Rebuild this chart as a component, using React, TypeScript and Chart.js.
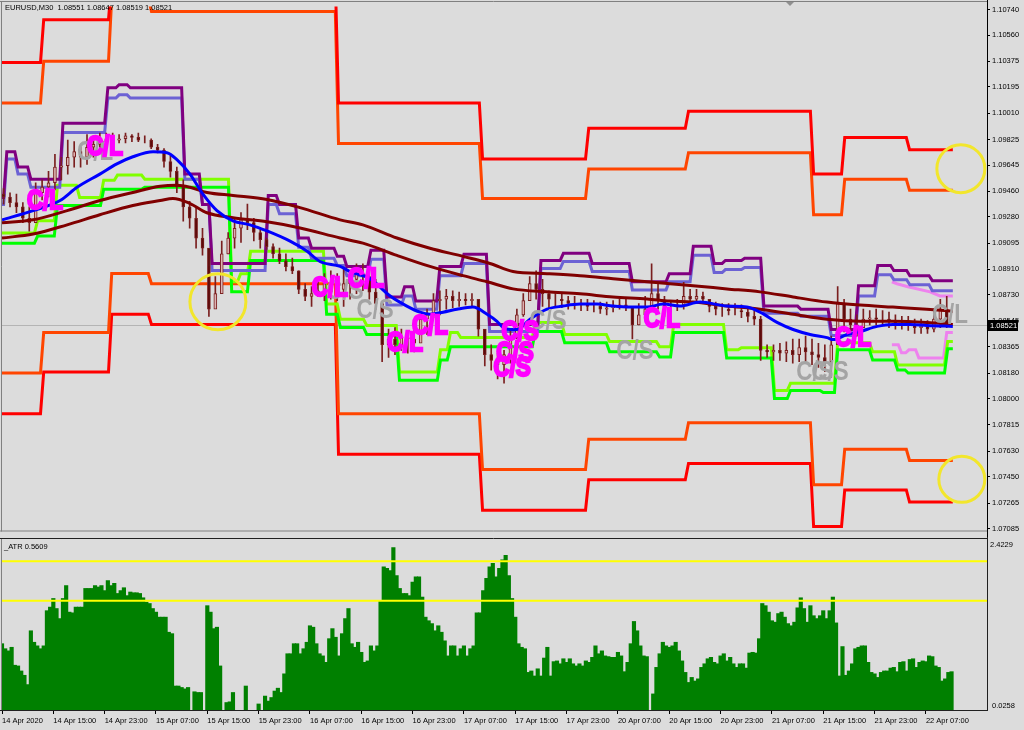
import React, { useEffect, useRef } from "react";
import { Chart, registerables } from "chart.js";

Chart.register(...registerables);

const BG = "#dcdcdc";
const X_MIN = -0.312;
const X_MAX = 307.05;
const LAST_BAR = 296.4;
const LAST_PRICE = 1.08521;
const HEADER = "EURUSD,M30  1.08551 1.08647 1.08519 1.08521";
const ATR_TITLE = "_ATR 0.5609";
const PRICE_MAX = 1.10761;
const PRICE_MIN = 1.07072;
const ATR_MAX = 2.4229;
const ATR_MIN = 0.0258;
const ATR_TOP_LABEL = "2.4229";
const ATR_BOTTOM_LABEL = "0.0258";
const FONT_FAMILY = "'Liberation Sans', Arial, sans-serif";

const priceTicks = [1.1074, 1.1056, 1.10375, 1.10195, 1.1001, 1.09825, 1.09645, 1.0946, 1.0928, 1.09095, 1.0891, 1.0873, 1.08545, 1.08365, 1.0818, 1.08, 1.07815, 1.0763, 1.0745, 1.07265, 1.07085];

const timeTickIdx = [0, 16, 32, 48, 64, 80, 96, 112, 128, 144, 160, 176, 192, 208, 224, 240, 256, 272, 288];
const timeTickLabels = ["14 Apr 2020", "14 Apr 15:00", "14 Apr 23:00", "15 Apr 07:00", "15 Apr 15:00", "15 Apr 23:00", "16 Apr 07:00", "16 Apr 15:00", "16 Apr 23:00", "17 Apr 07:00", "17 Apr 15:00", "17 Apr 23:00", "20 Apr 07:00", "20 Apr 15:00", "20 Apr 23:00", "21 Apr 07:00", "21 Apr 15:00", "21 Apr 23:00", "22 Apr 07:00"];

// candles (each drawn candle covers 2 bars of M30)
const CANDLE_STEP = 2;
const candleFirstOpen = 1.0944;
const candleHigh = [
  1.0948, 1.0945, 1.0944, 1.0938, 1.0935, 1.0952, 1.0954, 1.096, 1.0972, 1.097,
  1.0982, 1.0981, 1.0977, 1.0986, 1.0985, 1.0987, 1.0987, 1.0987, 1.0986, 1.0987,
  1.0986, 1.0987, 1.0985, 1.0983, 1.0979, 1.0976, 1.0971, 1.0963, 1.0954, 1.0939,
  1.0935, 1.092, 1.0893, 1.0886, 1.0911, 1.0917, 1.0927, 1.0931, 1.0937, 1.0927,
  1.0919, 1.0913, 1.0909, 1.0906, 1.0902, 1.0899, 1.089, 1.0881, 1.0879, 1.0883,
  1.0888, 1.089, 1.0888, 1.0892, 1.089, 1.0895, 1.0895, 1.0892, 1.0884, 1.0867,
  1.0849, 1.085, 1.0849, 1.0847, 1.0849, 1.0859, 1.0863, 1.0874, 1.0876, 1.0877,
  1.0876, 1.0875, 1.0874, 1.0874, 1.087, 1.0842, 1.0838, 1.0832, 1.0834, 1.0849,
  1.0863, 1.0874, 1.0886, 1.089, 1.0884, 1.0876, 1.0874, 1.0874, 1.0872, 1.0872,
  1.087, 1.087, 1.0869, 1.0868, 1.0868, 1.0869, 1.087, 1.087, 1.0863, 1.0867,
  1.0872, 1.0895, 1.0881, 1.0872, 1.0869, 1.087, 1.0882, 1.0877, 1.0877, 1.0875,
  1.087, 1.0868, 1.0867, 1.0867, 1.0867, 1.0866, 1.0863, 1.0862, 1.0858, 1.0838,
  1.0838, 1.0839, 1.084, 1.0842, 1.0842, 1.0844, 1.0842, 1.0839, 1.0838, 1.0844,
  1.0879, 1.087, 1.0863, 1.0859, 1.0863, 1.0862, 1.0863, 1.0862, 1.0861, 1.0859,
  1.0858, 1.0858, 1.0856, 1.0856, 1.0855, 1.0863, 1.087, 1.0872
];
const candleLow = [
  1.0937, 1.0935, 1.0931, 1.0924, 1.0918, 1.0925, 1.094, 1.0942, 1.0947, 1.0954,
  1.0958, 1.0963, 1.0963, 1.0965, 1.097, 1.0976, 1.0977, 1.0979, 1.098, 1.098,
  1.0981, 1.0981, 1.098, 1.0976, 1.0973, 1.0963, 1.0956, 1.0945, 1.0925, 1.092,
  1.0906, 1.0901, 1.0858, 1.0867, 1.0877, 1.0902, 1.0906, 1.091, 1.0919, 1.0911,
  1.0906, 1.0905, 1.0899, 1.0895, 1.089, 1.0888, 1.0874, 1.0869, 1.0865, 1.0872,
  1.0869, 1.087, 1.0869, 1.0865, 1.087, 1.0874, 1.0876, 1.087, 1.0863, 1.0826,
  1.0829, 1.0831, 1.0834, 1.0832, 1.0833, 1.0842, 1.0845, 1.0857, 1.0859, 1.0863,
  1.0864, 1.0865, 1.0866, 1.0864, 1.0844, 1.0823, 1.082, 1.0814, 1.0811, 1.0825,
  1.0842, 1.0858, 1.087, 1.087, 1.0865, 1.0864, 1.0865, 1.0864, 1.0863, 1.0863,
  1.0862, 1.0862, 1.0861, 1.086, 1.0859, 1.0861, 1.0863, 1.0862, 1.0842, 1.0852,
  1.0856, 1.0867, 1.0863, 1.0858, 1.0861, 1.0862, 1.0863, 1.0867, 1.0868, 1.0867,
  1.0861, 1.0859, 1.0858, 1.0859, 1.0859, 1.0857, 1.0854, 1.0852, 1.0827, 1.0829,
  1.0827, 1.0827, 1.0826, 1.0825, 1.0826, 1.0825, 1.0824, 1.0822, 1.0819, 1.0815,
  1.0839, 1.0847, 1.0845, 1.0844, 1.085, 1.0852, 1.0852, 1.0852, 1.085, 1.0849,
  1.0849, 1.0848, 1.0846, 1.0846, 1.0846, 1.0847, 1.085, 1.085
];
const candleClose = [
  1.0942, 1.0938, 1.0935, 1.0927, 1.0924, 1.0945, 1.0949, 1.0952, 1.0963, 1.0964,
  1.097, 1.0974, 1.097, 1.0977, 1.0979, 1.0981, 1.0983, 1.0982, 1.0983, 1.0985,
  1.0984, 1.0982, 1.0982, 1.0977, 1.0975, 1.0967, 1.096, 1.0949, 1.0935, 1.0927,
  1.0913, 1.0906, 1.0863, 1.0874, 1.0902, 1.0913, 1.092, 1.0926, 1.0924, 1.0917,
  1.0912, 1.0907, 1.0902, 1.0897, 1.0893, 1.089, 1.0877, 1.0872, 1.0874, 1.0876,
  1.0881, 1.0875, 1.0877, 1.0881, 1.0884, 1.0888, 1.0886, 1.0875, 1.0867, 1.0838,
  1.0842, 1.0838, 1.0843, 1.0842, 1.0839, 1.0856, 1.0859, 1.0869, 1.087, 1.0872,
  1.0869, 1.087, 1.0869, 1.087, 1.0849, 1.0831, 1.0827, 1.0824, 1.0831, 1.0843,
  1.0859, 1.0869, 1.0881, 1.0877, 1.0874, 1.087, 1.087, 1.0869, 1.0867, 1.0867,
  1.0866, 1.0865, 1.0865, 1.0863, 1.0864, 1.0865, 1.0866, 1.0865, 1.0852, 1.0859,
  1.0863, 1.0874, 1.0869, 1.0865, 1.0865, 1.0866, 1.0872, 1.087, 1.0872, 1.087,
  1.0865, 1.0863, 1.0863, 1.0862, 1.0862, 1.0861, 1.0858, 1.0856, 1.0834, 1.0833,
  1.0834, 1.0832, 1.0834, 1.0831, 1.0836, 1.0833, 1.0831, 1.0829, 1.0826, 1.0838,
  1.0867, 1.0856, 1.0852, 1.085, 1.0856, 1.0857, 1.0856, 1.0856, 1.0854, 1.0853,
  1.0852, 1.0852, 1.085, 1.0851, 1.0849, 1.0856, 1.0863, 1.0852
];

// session range lines (step lines)
const sessionStart = [0, 12.5, 33.7, 46.1, 104.4, 149.3, 182.4, 213.5, 252.5, 262.2, 282.4];
const redUpper = [1.10367, 1.10668, 1.1095, 1.1095, 1.10082, 1.09688, 1.09903, 1.10024, 1.09581, 1.09838, 1.09753];
const orangeUpper = [1.10082, 1.10375, 1.1082, 1.10725, 1.09796, 1.0941, 1.09617, 1.09731, 1.09295, 1.09545, 1.09467];
const orangeLower = [1.0818, 1.08466, 1.08881, 1.08809, 1.07894, 1.07501, 1.07715, 1.0783, 1.07394, 1.07644, 1.07565];
const redLower = [1.07894, 1.08187, 1.08595, 1.08523, 1.07608, 1.07215, 1.07429, 1.07544, 1.071, 1.07358, 1.07272];

// channel step lines
const upperStart = [0, 1, 4.5, 8.5, 18.5, 32.5, 36, 39.5, 56.5, 62, 65, 82.5, 86, 92, 96, 104, 107, 114.5, 119.5, 125, 128.5, 136, 143.5, 151.5, 167.5, 174.5, 183.5, 196, 207.5, 215, 221.5, 225, 231, 237, 248.5, 258, 266.5, 272.5, 277.5, 282.5, 289.5];
const purpleVal = [1.09417, 1.09738, 1.09631, 1.09545, 1.09939, 1.10189, 1.1021, 1.10189, 1.09581, 1.09367, 1.08952, 1.09431, 1.09367, 1.09131, 1.09059, 1.09002, 1.08931, 1.09045, 1.08716, 1.08788, 1.08687, 1.08931, 1.09016, 1.08523, 1.08973, 1.09023, 1.08952, 1.08823, 1.0888, 1.09074, 1.08952, 1.08973, 1.08988, 1.08652, 1.0863, 1.08487, 1.08795, 1.08938, 1.08902, 1.08866, 1.08831];
const slateVal = [1.09367, 1.09688, 1.09581, 1.09488, 1.09874, 1.10117, 1.10139, 1.10117, 1.09545, 1.09367, 1.08902, 1.09367, 1.09302, 1.09066, 1.08988, 1.08938, 1.08866, 1.08981, 1.08659, 1.08723, 1.0863, 1.08866, 1.08952, 1.08473, 1.08916, 1.08966, 1.08895, 1.08766, 1.08823, 1.09009, 1.08888, 1.08909, 1.08923, 1.08602, 1.0858, 1.08444, 1.08723, 1.08873, 1.08838, 1.08802, 1.08759];

const limeStart = [0, 10.6, 16.8, 23.7, 31.2, 35.5, 44, 71.1, 73.9, 77, 100.7, 105, 113.2, 123.4, 136.2, 139.3, 142.5, 165.8, 174.9, 188.9, 204.5, 208.9, 225.4, 230, 240.3, 245.3, 260, 270.9, 278.7, 294.3];
const limeVal = [1.09166, 1.09252, 1.09502, 1.09417, 1.09538, 1.09574, 1.09545, 1.08823, 1.0888, 1.09038, 1.08666, 1.08559, 1.08516, 1.08187, 1.08344, 1.08466, 1.0843, 1.08537, 1.08452, 1.08402, 1.08366, 1.08523, 1.08344, 1.08359, 1.08058, 1.08108, 1.08394, 1.0833, 1.08237, 1.08402];
const greenStart = [0, 10.6, 16.8, 31.2, 44, 71.1, 77, 100.7, 105, 113.2, 123.4, 136.2, 139.3, 165.8, 174.9, 188.9, 204.5, 208.9, 225.4, 240.3, 245.3, 255.5, 260, 270.9, 278.7, 282, 294.3];
const greenVal = [1.09095, 1.09145, 1.0936, 1.09474, 1.09488, 1.08752, 1.08973, 1.08595, 1.08502, 1.08452, 1.0813, 1.08273, 1.08366, 1.08473, 1.08394, 1.0833, 1.08294, 1.08466, 1.08287, 1.08001, 1.08058, 1.08044, 1.08344, 1.08273, 1.08202, 1.0818, 1.08351];

const pinkUpIdx = [277.4, 279, 282.4, 289.3, 292.4, 296.4];
const pinkUpVal = [1.08823, 1.08809, 1.08788, 1.08752, 1.08723, 1.08723];
const pinkLowStart = [277.4, 279.9, 282.2, 285.3, 294];
const pinkLowVal = [1.0838, 1.08323, 1.08344, 1.08287, 1.08466];

// moving averages
const blueIdx = [0, 9.7, 18.1, 23.4, 30.5, 35.8, 40.8, 47.1, 51.4, 54.6, 58.6, 62.7, 67, 72, 77.3, 82.6, 89.8, 95.1, 99.1, 105.4, 108.5, 114.7, 121, 126.2, 130.3, 133.4, 137.5, 141.8, 146.8, 151.2, 154.3, 156.2, 158.4, 160.5, 164.6, 169.9, 174.9, 180.2, 185.5, 190.5, 195.8, 201.1, 206.1, 211.3, 217.6, 226, 232.2, 236.3, 241.6, 246.6, 251.9, 257.2, 259.1, 263.4, 267.5, 272.8, 277.7, 283.1, 288.3, 296.4];
const blueVal = [1.09259, 1.09324, 1.09395, 1.09488, 1.09581, 1.09653, 1.09703, 1.09738, 1.09731, 1.09681, 1.09581, 1.09438, 1.09324, 1.09252, 1.09224, 1.09181, 1.09109, 1.09038, 1.08966, 1.08931, 1.08895, 1.08845, 1.08723, 1.08652, 1.08609, 1.08595, 1.08609, 1.0863, 1.08645, 1.08595, 1.08545, 1.08502, 1.08487, 1.08487, 1.08559, 1.0863, 1.08652, 1.08666, 1.08666, 1.08652, 1.08645, 1.08645, 1.08666, 1.08652, 1.0868, 1.08652, 1.08645, 1.08609, 1.08537, 1.08487, 1.08452, 1.0843, 1.08416, 1.08452, 1.08473, 1.08509, 1.08523, 1.08523, 1.08516, 1.08509];
const maFastIdx = [0, 9.7, 20.3, 30.5, 40.8, 49.3, 54.6, 58.6, 63.9, 72, 82.6, 92.9, 105.4, 112.5, 123.1, 133.4, 143.7, 152.1, 159.3, 169.9, 180.2, 190.5, 201.1, 208.2, 215.4, 226, 236.3, 246.6, 257.2, 267.5, 277.7, 288.3, 296.4];
const maFastVal = [1.09238, 1.09259, 1.09324, 1.09395, 1.09452, 1.09495, 1.09502, 1.09488, 1.09452, 1.09431, 1.09402, 1.09345, 1.09259, 1.09224, 1.09131, 1.09059, 1.09002, 1.08952, 1.08895, 1.0888, 1.08866, 1.08845, 1.08823, 1.08809, 1.08795, 1.08773, 1.08752, 1.08716, 1.0868, 1.08659, 1.08645, 1.0863, 1.08616];
const maSlowIdx = [0, 9.7, 20.3, 30.5, 40.8, 49.3, 53.3, 58.6, 63.9, 72, 82.6, 92.9, 105.4, 112.5, 123.1, 133.4, 143.7, 151.2, 159.3, 169.9, 180.2, 190.5, 201.1, 208.2, 215.4, 226, 236.3, 246.6, 257.2, 267.5, 277.7, 288.3, 296.4];
const maSlowVal = [1.09131, 1.09159, 1.09224, 1.09295, 1.0936, 1.09395, 1.0941, 1.09374, 1.09309, 1.09274, 1.09245, 1.09202, 1.09131, 1.09095, 1.09009, 1.08931, 1.08866, 1.08823, 1.08773, 1.08752, 1.08738, 1.08716, 1.08702, 1.08687, 1.0868, 1.08652, 1.0863, 1.08595, 1.08559, 1.08545, 1.08545, 1.08537, 1.08523];

// text marks
const labelText = ["C/L", "C/S", "C/S", "C/S", "C/S", "C/S", "C/S", "C/L", "C/L", "C/L", "C/L", "C/L", "C/L", "C/L", "C/S", "C/S", "C/S", "C/L", "C/L"];
const labelIdx = [29.0, 106.9, 116.3, 170.2, 197.3, 253.4, 258.1, 295.5, 13.4, 32.1, 102.2, 113.5, 125.6, 133.4, 161.5, 159.9, 159.0, 205.7, 265.3];
const labelPrice = [1.09737, 1.08754, 1.08623, 1.08547, 1.08332, 1.08187, 1.08187, 1.08588, 1.09391, 1.09772, 1.08775, 1.08844, 1.08388, 1.08512, 1.08464, 1.08318, 1.08215, 1.08561, 1.08422];
const labelColor = ["#a4a4a4", "#a4a4a4", "#a4a4a4", "#a4a4a4", "#a4a4a4", "#a4a4a4", "#a4a4a4", "#a4a4a4", "#ff00ff", "#ff00ff", "#ff00ff", "#ff00ff", "#ff00ff", "#ff00ff", "#ff00ff", "#ff00ff", "#ff00ff", "#ff00ff", "#ff00ff"];

// highlight circles
const circleIdx = [67.3, 298.9, 299.2];
const circlePrice = [1.08682, 1.09619, 1.07432];
const circleRadius = [28, 24, 23];

// ATR histogram, one value per bar
const atrValues = [
  0.95, 0.88, 0.85, 0.9, 0.65, 0.64, 0.57, 0.51, 0.38,
  1.13, 0.97, 0.92, 0.88, 0.92, 1.41, 1.46, 1.58, 1.44, 1.3,
  1.58, 1.76, 1.39, 1.38, 1.46, 1.46, 1.46, 1.72, 1.72, 1.72,
  1.76, 1.74, 1.76, 1.69, 1.83, 1.76, 1.79, 1.65, 1.69, 1.73,
  1.62, 1.67, 1.66, 1.66, 1.65, 1.59, 1.53, 1.51, 1.44, 1.39,
  1.32, 1.32, 1.32, 1.11, 1.09, 0.36, 0.36, 0.34, 0.32, 0.34,
  null, 0.28, 0.27, 0.27, null, 1.48, 1.39, 1.16, 1.18, 0.64,
  null, 0.13, 0.14, 0.27, null, null, null, 0.36, null, null,
  null, 0.11, null, 0.22, 0.15, 0.2, 0.29, 0.33, 0.27, 0.53,
  0.81, 0.81, 0.95, 0.95, 0.81, 0.88, 0.97, 1.2, 1.18, 0.95,
  0.81, 0.78, 0.69, 1.02, 1.16, 1.04, 0.78, 1.09, 1.3, 1.44,
  0.95, 0.9, 0.97, 0.83, 0.69, 0.71, 0.92, 0.85, 0.92, 1.55,
  2.02, 2.0, 1.97, 2.29, 1.9, 1.72, 1.65, 1.65, 1.62,
  1.81, 1.88, 1.88, 1.6, 1.32, 1.27, 1.23, 1.13, 1.2, 1.11,
  0.99, 0.78, 0.92, 0.92, 0.78, 0.88, 0.92, 0.78, 0.88, 0.92,
  1.38, 1.38, 1.69, 1.86, 2.02, 2.07, 1.88, 2.0, 2.12, 2.18,
  1.9, 1.58, 1.32, 0.95, 0.9, 0.88, 0.55, 0.57, 0.5, 0.6,
  0.5, 0.75, 0.9, 0.5, 0.7, 0.71, 0.67, 0.74, 0.69, 0.74,
  0.67, 0.64, 0.67, 0.64, 0.71, 0.69, 0.76, 0.92, 0.81, 0.85,
  0.78, 0.77, 0.76, 0.76, 0.83, 0.78, 0.56, 0.69, 0.95, 1.26,
  1.13, 0.92, 0.78, 0.77, null, 0.25, 0.62, 0.81, 0.97,
  0.92, 0.9, 0.92, 0.97, 0.85, 0.71, 0.55, 0.41, 0.48, 0.43,
  0.46, 0.62, 0.67, 0.74, 0.76, 0.69, 0.67, 0.78, 0.81, 0.71,
  0.76, 0.67, 0.62, 0.67, 0.67, 0.61, 0.82, 0.83, 0.82, 1.02,
  1.51, 1.48, 1.39, 1.27, 1.25, 1.37, 1.39, 1.32, 1.23, 1.2,
  1.25, 1.45, 1.59, 1.44, 1.25, 1.48, 1.34, 1.3, 1.34, 1.41,
  1.3, 1.41, 1.6, 1.24, 0.5, 0.91, 0.51, 0.57, 0.67, 0.88,
  0.9, 0.92, 0.92, 0.69, 0.55, 0.53, 0.48, 0.55, 0.57,
  0.57, 0.61, 0.62, 0.56, 0.69, 0.7, 0.57, 0.73, 0.74, 0.62,
  0.69, 0.71, 0.7, 0.78, 0.77, 0.64, 0.62, 0.43, 0.46, 0.55,
  0.56
];
const atrLevels = [2.1, 1.55];

function stepPoints(starts: number[], vals: number[], end: number) {
  const pts: { x: number; y: number }[] = [];
  for (let j = 0; j < starts.length; j++) {
    const a = j === 0 ? starts[0] : starts[j] + 0.5;
    const b = j < starts.length - 1 ? starts[j + 1] - 0.5 : end;
    pts.push({ x: a, y: vals[j] }, { x: b, y: vals[j] });
  }
  return pts;
}

function polyPoints(idx: number[], vals: number[]) {
  return idx.map((x, i) => ({ x, y: vals[i] }));
}

function stepLine(pts: any[], color: string, order: number, width = 3) {
  return {
    type: "line" as const,
    data: pts,
    borderColor: color,
    borderWidth: width,
    pointRadius: 0,
    tension: 0,
    fill: false,
    order,
  };
}

function smoothLine(pts: any[], color: string, order: number) {
  return {
    type: "line" as const,
    data: pts,
    borderColor: color,
    borderWidth: 3,
    pointRadius: 0,
    tension: 0.4,
    cubicInterpolationMode: "monotone" as const,
    fill: false,
    order,
  };
}

const axisFont = { family: FONT_FAMILY, size: 7.5 };

const mainDecor = {
  id: "mainDecor",
  beforeDatasetsDraw(chart: any) {
    const { ctx, chartArea: a, scales } = chart;
    const py = Math.round(scales.y.getPixelForValue(LAST_PRICE)) + 0.5;
    ctx.save();
    ctx.strokeStyle = "#b4b4b4";
    ctx.lineWidth = 1;
    ctx.beginPath();
    ctx.moveTo(a.left, py);
    ctx.lineTo(a.right, py);
    ctx.stroke();
    ctx.restore();
  },
  afterDatasetsDraw(chart: any) {
    const { ctx, chartArea: a, scales } = chart;
    ctx.save();
    ctx.beginPath();
    ctx.rect(a.left, a.top, a.right - a.left, a.bottom - a.top);
    ctx.clip();
    for (let i = 0; i < labelText.length; i++) {
      const px = scales.x.getPixelForValue(labelIdx[i]);
      const py = scales.y.getPixelForValue(labelPrice[i]);
      ctx.save();
      ctx.translate(px, py);
      ctx.scale(0.8, 1);
      ctx.font = `bold 28px ${FONT_FAMILY}`;
      ctx.textAlign = "center";
      ctx.textBaseline = "middle";
      ctx.fillStyle = labelColor[i];
      ctx.fillText(labelText[i], 0, 0);
      if (labelColor[i] === "#ff00ff") {
        ctx.strokeStyle = labelColor[i];
        ctx.lineWidth = 2.5;
        ctx.strokeText(labelText[i], 0, 0);
      }
      ctx.restore();
    }
    ctx.restore();
  },
  afterDraw(chart: any) {
    const { ctx, chartArea: a, scales, height } = chart;
    ctx.save();
    ctx.lineWidth = 1;
    ctx.strokeStyle = "#808080";
    ctx.beginPath();
    ctx.moveTo(0, 1.5);
    ctx.lineTo(a.right, 1.5);
    ctx.moveTo(1.5, 1);
    ctx.lineTo(1.5, a.bottom + 1);
    ctx.moveTo(0, a.bottom + 0.5);
    ctx.lineTo(a.right, a.bottom + 0.5);
    ctx.stroke();
    ctx.strokeStyle = "#000";
    ctx.beginPath();
    ctx.moveTo(a.right + 0.5, 0);
    ctx.lineTo(a.right + 0.5, height);
    ctx.stroke();
    ctx.fillStyle = "#909090";
    ctx.beginPath();
    ctx.moveTo(786, 2);
    ctx.lineTo(794, 2);
    ctx.lineTo(790, 6);
    ctx.closePath();
    ctx.fill();
    ctx.fillStyle = "#000";
    ctx.font = `7.5px ${FONT_FAMILY}`;
    ctx.textBaseline = "middle";
    ctx.textAlign = "left";
    ctx.fillText(HEADER, 5, 8);
    const py = Math.round(scales.y.getPixelForValue(LAST_PRICE));
    ctx.fillStyle = "#000";
    ctx.fillRect(a.right + 1, py - 5, 30, 11);
    ctx.fillStyle = "#fff";
    ctx.fillText(LAST_PRICE.toFixed(5), a.right + 3, py + 0.5);
    ctx.restore();
  },
};

const atrDecor = {
  id: "atrDecor",
  afterDraw(chart: any) {
    const { ctx, chartArea: a } = chart;
    ctx.save();
    ctx.lineWidth = 1;
    ctx.strokeStyle = "#808080";
    ctx.beginPath();
    ctx.moveTo(1.5, a.top);
    ctx.lineTo(1.5, a.bottom);
    ctx.stroke();
    ctx.strokeStyle = "#202020";
    ctx.beginPath();
    ctx.moveTo(0, a.top + 0.5);
    ctx.lineTo(a.right, a.top + 0.5);
    ctx.moveTo(0, a.bottom + 0.5);
    ctx.lineTo(a.right + 1, a.bottom + 0.5);
    ctx.moveTo(a.right + 0.5, 0);
    ctx.lineTo(a.right + 0.5, a.bottom + 1);
    ctx.stroke();
    ctx.fillStyle = "#000";
    ctx.font = `7.5px ${FONT_FAMILY}`;
    ctx.textBaseline = "middle";
    ctx.textAlign = "left";
    ctx.fillText(ATR_TITLE, 4, a.top + 9);
    ctx.fillText(ATR_TOP_LABEL, a.right + 3, a.top + 7);
    ctx.fillText(ATR_BOTTOM_LABEL, a.right + 5, a.bottom - 4);
    ctx.restore();
  },
};

export default function App() {
  const mainRef = useRef<HTMLCanvasElement>(null);
  const atrRef = useRef<HTMLCanvasElement>(null);

  useEffect(() => {
    document.body.style.margin = "0";
    document.body.style.background = BG;

    const candleX = candleClose.map((_, k) => k * CANDLE_STEP + 0.5);
    const opens = candleClose.map((_, k) => (k === 0 ? candleFirstOpen : candleClose[k - 1]));
    const wickData = candleX.map((x, k) => ({ x, y: [candleLow[k], candleHigh[k]] }));
    const bodyData = candleX.map((x, k) => ({ x, y: [opens[k], candleClose[k]] }));
    const bodyColors = candleClose.map((c, k) => (c >= opens[k] ? "#dcb2b2" : "#5c0a0a"));

    const datasets: any[] = [
      stepLine(stepPoints(sessionStart, redUpper, LAST_BAR), "#ff0000", 10),
      stepLine(stepPoints(sessionStart, orangeUpper, LAST_BAR), "#ff4500", 10),
      stepLine(stepPoints(sessionStart, orangeLower, LAST_BAR), "#ff4500", 10),
      stepLine(stepPoints(sessionStart, redLower, LAST_BAR), "#ff0000", 10),
      stepLine(stepPoints(upperStart, purpleVal, LAST_BAR), "#800080", 9),
      stepLine(stepPoints(upperStart, slateVal, LAST_BAR), "#6c62d4", 9),
      stepLine(stepPoints(greenStart, greenVal, LAST_BAR), "#00ff00", 9),
      stepLine(stepPoints(limeStart, limeVal, LAST_BAR), "#80ff00", 9),
      stepLine(polyPoints(pinkUpIdx, pinkUpVal), "#ee82ee", 9),
      stepLine(stepPoints(pinkLowStart, pinkLowVal, LAST_BAR), "#ee82ee", 9),
      {
        type: "bar",
        data: wickData,
        backgroundColor: "#7a1f1f",
        barThickness: 1,
        grouped: false,
        borderWidth: 0,
        order: 8,
      },
      {
        type: "bar",
        data: bodyData,
        backgroundColor: bodyColors,
        borderColor: "#7a1f1f",
        borderWidth: 1,
        borderSkipped: false,
        barThickness: 3,
        grouped: false,
        order: 7,
      },
      smoothLine(polyPoints(maFastIdx, maFastVal), "#800000", 3),
      smoothLine(polyPoints(maSlowIdx, maSlowVal), "#800000", 3),
      smoothLine(polyPoints(blueIdx, blueVal), "#0000ff", 2),
      {
        type: "scatter",
        data: polyPoints(circleIdx, circlePrice),
        showLine: false,
        pointRadius: circleRadius,
        pointBorderWidth: 3,
        pointBorderColor: "#f2e62c",
        pointBackgroundColor: "rgba(0,0,0,0)",
        order: 1,
      },
    ];

    const mainChart = new Chart(mainRef.current as HTMLCanvasElement, {
      type: "line",
      data: { datasets },
      options: {
        animation: false,
        responsive: false,
        events: [],
        layout: { autoPadding: false, padding: { left: 1, top: 2, right: 0, bottom: 2 } },
        plugins: { legend: { display: false }, tooltip: { enabled: false } },
        scales: {
          x: { type: "linear", min: X_MIN, max: X_MAX, offset: false, display: false, grid: { offset: false } },
          y: {
            type: "linear",
            position: "right",
            min: PRICE_MIN,
            max: PRICE_MAX,
            afterBuildTicks: (s: any) => {
              s.ticks = priceTicks.map((v) => ({ value: v }));
            },
            afterFit: (s: any) => {
              s.width = 37;
            },
            ticks: {
              font: axisFont,
              color: "#000",
              padding: 2,
              callback: (v: any) => Number(v).toFixed(5),
            },
            grid: { drawOnChartArea: false, drawTicks: true, tickLength: 3, color: "#000" },
            border: { display: false },
          },
        },
      } as any,
      plugins: [mainDecor],
    });

    const atrData = atrValues.map((v, i) => ({ x: i, y: v }));
    const atrChart = new Chart(atrRef.current as HTMLCanvasElement, {
      type: "bar",
      data: {
        datasets: [
          ...atrLevels.map((lvl) => ({
            type: "line",
            data: [
              { x: X_MIN, y: lvl },
              { x: X_MAX, y: lvl },
            ],
            borderColor: "#ffff00",
            borderWidth: 2,
            pointRadius: 0,
            order: 0,
          })),
          {
            type: "bar",
            data: atrData,
            backgroundColor: "#008000",
            borderWidth: 0,
            barThickness: 3.5,
            order: 1,
          },
        ] as any,
      },
      options: {
        animation: false,
        responsive: false,
        events: [],
        layout: { autoPadding: false, padding: { left: 1, top: 1, right: 0, bottom: 0 } },
        plugins: { legend: { display: false }, tooltip: { enabled: false } },
        scales: {
          x: {
            type: "linear",
            min: X_MIN,
            max: X_MAX,
            offset: false,
            position: "bottom",
            afterBuildTicks: (s: any) => {
              s.ticks = timeTickIdx.map((v) => ({ value: v }));
            },
            afterFit: (s: any) => {
              s.height = 20;
            },
            ticks: {
              font: axisFont,
              color: "#000",
              padding: 2,
              align: "start",
              maxRotation: 0,
              autoSkip: false,
              callback: (v: any) => {
                const k = timeTickIdx.indexOf(Number(v));
                return k >= 0 ? timeTickLabels[k] : "";
              },
            },
            grid: { offset: false, drawOnChartArea: false, drawTicks: true, tickLength: 4, color: "#000" },
            border: { display: false },
          },
          y: {
            type: "linear",
            position: "right",
            min: ATR_MIN,
            max: ATR_MAX,
            afterFit: (s: any) => {
              s.width = 37;
            },
            ticks: { display: false },
            grid: { display: false },
            border: { display: false },
          },
        },
      } as any,
      plugins: [atrDecor],
    });

    return () => {
      mainChart.destroy();
      atrChart.destroy();
    };
  }, []);

  return (
    <div style={{ width: 1024, height: 730, background: BG, overflow: "hidden" }}>
      <canvas ref={mainRef} width={1024} height={537} style={{ display: "block", width: 1024, height: 537 }} />
      <canvas ref={atrRef} width={1024} height={193} style={{ display: "block", width: 1024, height: 193 }} />
    </div>
  );
}
